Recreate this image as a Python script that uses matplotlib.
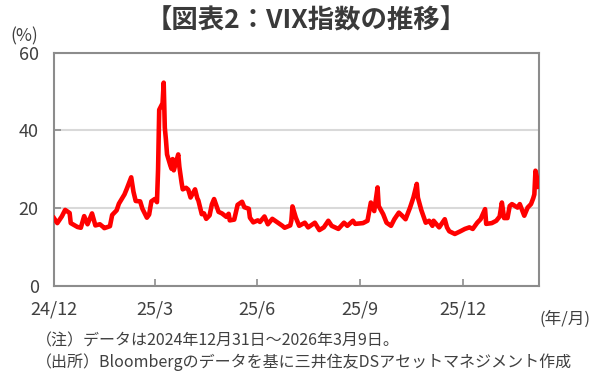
import matplotlib
matplotlib.use('Agg')
import matplotlib.pyplot as plt
import pandas as pd

plt.rcParams['font.family'] = ['Noto Sans CJK JP', 'DejaVu Sans']

# VIX指数 (picture read, 2024/12/31 - 2026/3/9)
dates = [
    '2024-12-31', '2025-01-03', '2025-01-07', '2025-01-10', '2025-01-14', '2025-01-15',
    '2025-01-21', '2025-01-24', '2025-01-27', '2025-01-30', '2025-02-03', '2025-02-06',
    '2025-02-10', '2025-02-13', '2025-02-14', '2025-02-19', '2025-02-21', '2025-02-25',
    '2025-02-27', '2025-03-04', '2025-03-06', '2025-03-10', '2025-03-12', '2025-03-14',
    '2025-03-18', '2025-03-20', '2025-03-24', '2025-03-26', '2025-03-28', '2025-03-31',
    '2025-04-02', '2025-04-03', '2025-04-04', '2025-04-07', '2025-04-08', '2025-04-09',
    '2025-04-10', '2025-04-11', '2025-04-14', '2025-04-15', '2025-04-16', '2025-04-17',
    '2025-04-21', '2025-04-22', '2025-04-23', '2025-04-24', '2025-04-25', '2025-04-28',
    '2025-04-30', '2025-05-02', '2025-05-06', '2025-05-08', '2025-05-09', '2025-05-12',
    '2025-05-14', '2025-05-16', '2025-05-19', '2025-05-21', '2025-05-23', '2025-05-27',
    '2025-05-30', '2025-06-03', '2025-06-05', '2025-06-06', '2025-06-10', '2025-06-13',
    '2025-06-17', '2025-06-19', '2025-06-23', '2025-06-24', '2025-06-27', '2025-07-01',
    '2025-07-03', '2025-07-07', '2025-07-10', '2025-07-14', '2025-07-18', '2025-07-23',
    '2025-07-25', '2025-07-30', '2025-07-31', '2025-08-01', '2025-08-04', '2025-08-07',
    '2025-08-12', '2025-08-15', '2025-08-21', '2025-08-25', '2025-08-29', '2025-09-02',
    '2025-09-05', '2025-09-11', '2025-09-16', '2025-09-19', '2025-09-24', '2025-09-26',
    '2025-10-03', '2025-10-07', '2025-10-10', '2025-10-13', '2025-10-16', '2025-10-17',
    '2025-10-21', '2025-10-24', '2025-10-28', '2025-10-31', '2025-11-04', '2025-11-07',
    '2025-11-10', '2025-11-14', '2025-11-17', '2025-11-20', '2025-11-21', '2025-11-24',
    '2025-11-28', '2025-12-01', '2025-12-04', '2025-12-05', '2025-12-10', '2025-12-15',
    '2025-12-17', '2025-12-19', '2025-12-24', '2025-12-29', '2026-01-02', '2026-01-06',
    '2026-01-09', '2026-01-13', '2026-01-16', '2026-01-20', '2026-01-21', '2026-01-26',
    '2026-01-30', '2026-02-02', '2026-02-04', '2026-02-06', '2026-02-09', '2026-02-11',
    '2026-02-13', '2026-02-18', '2026-02-20', '2026-02-24', '2026-02-27', '2026-03-02',
    '2026-03-04', '2026-03-05', '2026-03-06', '2026-03-09',
]
vix = [
    17.4, 16.1, 17.8, 19.5, 18.7, 16.1,
    15.1, 14.9, 17.9, 15.8, 18.6, 15.5,
    15.8, 15.1, 14.8, 15.3, 18.2, 19.4,
    21.1, 23.5, 24.9, 27.9, 24.2, 21.8,
    21.7, 19.8, 17.5, 18.3, 21.7, 22.3,
    21.5, 30.0, 45.3, 47.0, 52.3, 40.7,
    37.6, 33.8, 30.9, 30.1, 32.6, 29.7,
    33.8, 30.6, 28.5, 26.5, 24.8, 25.2,
    24.7, 22.7, 24.8, 22.5, 21.9, 18.4,
    18.6, 17.2, 18.1, 20.9, 22.3, 19.0,
    18.6, 17.7, 18.5, 16.8, 17.0, 20.8,
    21.6, 20.2, 19.8, 17.5, 16.3, 16.8,
    16.4, 17.8, 15.8, 17.2, 16.4, 15.4,
    14.9, 15.5, 16.7, 20.4, 17.5, 15.4,
    16.2, 15.0, 16.2, 14.3, 15.0, 16.7,
    15.4, 14.6, 16.2, 15.4, 16.7, 15.9,
    16.1, 16.7, 21.4, 19.2, 25.3, 20.5,
    18.4, 16.2, 15.4, 17.1, 18.8, 18.0,
    17.1, 20.1, 22.7, 26.2, 22.7, 19.5,
    16.2, 16.7, 15.4, 16.7, 15.0, 17.1,
    15.0, 14.0, 13.3, 14.0, 14.6, 15.0,
    14.6, 16.2, 17.1, 19.7, 15.9, 16.1,
    16.7, 17.8, 21.4, 17.4, 17.4, 20.5,
    21.0, 20.1, 21.0, 18.0, 20.1, 21.0,
    22.5, 23.5, 29.6, 25.5,
]
tick_dates = ['2024-12-31', '2025-03-31', '2025-06-30', '2025-09-30', '2025-12-31']
tick_labels = ['24/12', '25/3', '25/6', '25/9', '25/12']

x = pd.to_datetime(dates)
text_color = '#404040'
frame_color = '#8c8c8c'

fig = plt.figure(figsize=(6.13, 3.88), dpi=100)
ax = fig.add_axes([0.088, 0.264, 0.791, 0.600])

ax.plot(x, vix, color='#ff0000', linewidth=3.3, solid_joinstyle='round', zorder=3)

# 軸の範囲と目盛り
ax.set_xlim(pd.Timestamp('2024-12-31'), pd.Timestamp('2026-03-09'))
ax.set_ylim(0, 60)
ax.set_yticks([0, 20, 40, 60])
ax.set_xticks(pd.to_datetime(tick_dates))
ax.set_xticklabels(tick_labels)
ax.yaxis.grid(True, color='#d9d9d9', linewidth=1.5, zorder=1)
ax.tick_params(axis='both', direction='in', length=5, width=1.2, color=frame_color,
               labelsize=13, labelcolor=text_color)
ax.tick_params(axis='y', pad=11)
ax.tick_params(axis='x', pad=11)
for s in ax.spines.values():
    s.set_color(frame_color)
    s.set_linewidth(1.5)

# タイトル・注記
fig.text(0.5, 0.945, '【図表2：VIX指数の推移】', ha='center', va='center',
         fontsize=19, fontweight='bold', color='#3a3a3a')
fig.text(0.040, 0.905, '(%)', ha='center', va='center', fontsize=12.5, color=text_color)
fig.text(0.922, 0.178, '(年/月)', ha='center', va='center', fontsize=12, color=text_color)
fig.text(0.058, 0.122, '（注）データは2024年12月31日～2026年3月9日。', ha='left', va='center',
         fontsize=11.5, color=text_color)
fig.text(0.058, 0.066, '（出所）Bloombergのデータを基に三井住友DSアセットマネジメント作成',
         ha='left', va='center', fontsize=11.5, color=text_color)

fig.savefig('out.png', dpi=100)
